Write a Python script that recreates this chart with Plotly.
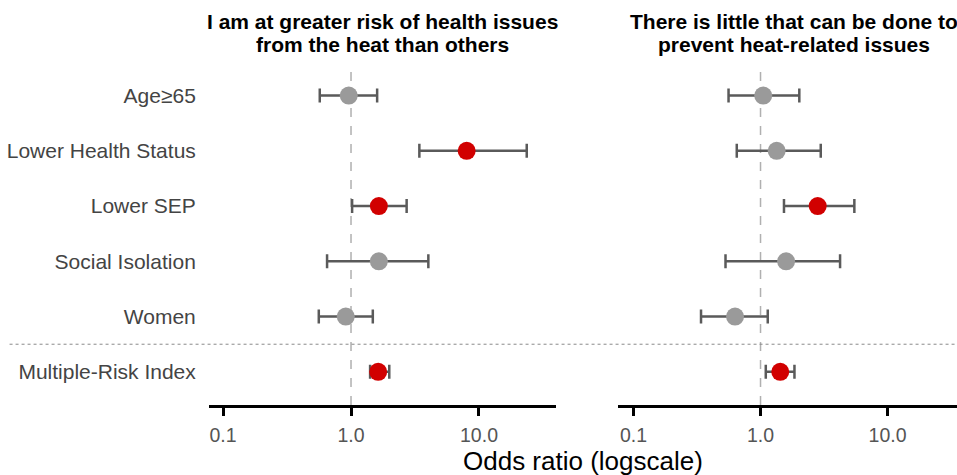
import plotly.graph_objects as go

# Predictors (top to bottom)
predictors = ["Age≥65", "Lower Health Status", "Lower SEP",
              "Social Isolation", "Women", "Multiple-Risk Index"]

# Outcome 1: greater personal risk from heat
or_risk = [0.96, 8.01, 1.65, 1.65, 0.91, 1.63]
lo_risk = [0.57, 3.42, 1.02, 0.65, 0.56, 1.41]
hi_risk = [1.60, 23.6, 2.72, 4.02, 1.48, 1.99]

# Outcome 2: little can be done to prevent heat issues
or_help = [1.05, 1.34, 2.82, 1.59, 0.63, 1.43]
lo_help = [0.56, 0.65, 1.53, 0.53, 0.34, 1.10]
hi_help = [2.02, 2.98, 5.48, 4.23, 1.14, 1.85]

title_lines = [["I am at greater risk of health issues", "from the heat than others"],
               ["There is little that can be done to", "prevent heat-related issues"]]

tick_vals = [0.1, 1, 10]
tick_text = ["0.1", "1.0", "10.0"]

RED = "#d10000"
GREY = "#9a9a9a"
BAR = "#5a5a5a"
FONT = "Liberation Sans, Arial, sans-serif"

ypos = list(range(len(predictors) - 1, -1, -1))  # first predictor on top

fig = go.Figure()

panels = [(or_risk, lo_risk, hi_risk, "x", "y"),
          (or_help, lo_help, hi_help, "x2", "y2")]

for est, lo, hi, xa, ya in panels:
    colors = [RED if (l > 1 or h < 1) else GREY for l, h in zip(lo, hi)]
    fig.add_trace(go.Scatter(
        x=est, y=ypos, xaxis=xa, yaxis=ya, mode="markers",
        marker=dict(size=18, color=colors, line=dict(width=0)),
        error_x=dict(type="data", symmetric=False,
                     array=[h - e for h, e in zip(hi, est)],
                     arrayminus=[e - l for e, l in zip(est, lo)],
                     color=BAR, thickness=2.5, width=7),
        showlegend=False, hoverinfo="skip",
    ))

yrange = [-0.6, 5.5]
xcommon = dict(type="log", showgrid=False, zeroline=False,
               showline=True, linecolor="black", linewidth=2.5,
               ticks="outside", ticklen=8, tickwidth=2.5, tickcolor="black",
               tickvals=tick_vals, ticktext=tick_text, ticklabelstandoff=3,
               tickfont=dict(family=FONT, size=19.5, color="#555555"))

fig.update_layout(
    width=957, height=475,
    margin=dict(l=0, r=0, t=68, b=70),
    plot_bgcolor="white", paper_bgcolor="white",
    xaxis=dict(domain=[0.2182, 0.5805], range=[-1.111, 1.598], **xcommon),
    xaxis2=dict(domain=[0.6458, 1.0], range=[-1.122, 1.547], **xcommon),
    yaxis=dict(range=yrange, showgrid=False, zeroline=False, showline=False,
               tickvals=ypos, ticktext=predictors, ticks="",
               ticklabelstandoff=12,
               tickfont=dict(family=FONT, size=21, color="#444444")),
    yaxis2=dict(range=yrange, anchor="x2", showgrid=False, zeroline=False,
                showline=False, showticklabels=False),
)

# Reference line at OR = 1 in both panels
for xr, yr in [("x", "y"), ("x2", "y2")]:
    fig.add_shape(type="line", xref=xr, yref=f"{yr} domain",
                  x0=1, x1=1, y0=0, y1=1, layer="below",
                  line=dict(color="#b0b0b0", width=1.5, dash="dash"))

# Separator between single predictors and the combined index
fig.add_shape(type="line", xref="paper", yref="y", x0=0.01, x1=1,
              y0=0.5, y1=0.5, line=dict(color="#8a8a8a", width=1, dash="dot"))

# Panel titles, one annotation per line for tight spacing
for xr, xs, lines in [("x domain", 0, title_lines[0]),
                      ("x2 domain", 6, title_lines[1])]:
    for shift, line in zip([47, 24], lines):
        fig.add_annotation(text=f"<b>{line}</b>", xref=xr, yref="paper",
                           x=0.5, y=1.0, xshift=xs, yshift=shift,
                           yanchor="middle", showarrow=False,
                           font=dict(family=FONT, size=21, color="black"))

# Shared x-axis title
fig.add_annotation(text="Odds ratio (logscale)", xref="paper", yref="paper",
                   x=0.609, y=0, yshift=-56, yanchor="middle", showarrow=False,
                   font=dict(family=FONT, size=26, color="black"))

fig.write_html("out.html")
